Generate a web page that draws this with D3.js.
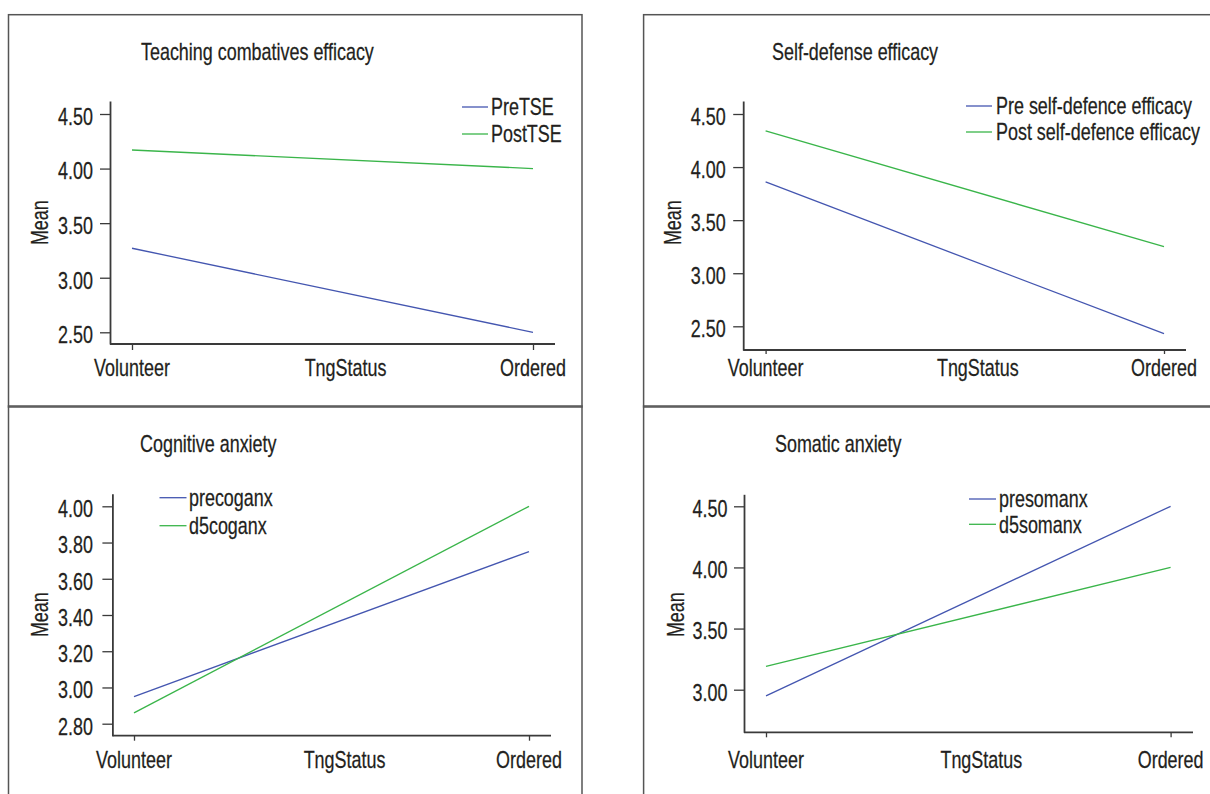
<!DOCTYPE html>
<html>
<head>
<meta charset="utf-8">
<script src="https://cdn.jsdelivr.net/npm/d3@7"></script>
<style>
  body { margin: 0; background: #fff; }
  svg { display: block; }
  text { font-family: "Liberation Sans", Arial, sans-serif; fill: #231f20; stroke: #231f20; stroke-width: 0.25px; }
</style>
</head>
<body>
<div id="chart"></div>
<script>
// data
const categories = ["Volunteer", "Ordered"];
const xTitle = "TngStatus";
const titles = ["Teaching combatives efficacy", "Self-defense efficacy", "Cognitive anxiety", "Somatic anxiety"];

const seriesTSE = ["PreTSE", "PostTSE"];
const preTSE = [3.27, 2.50];
const postTSE = [4.17, 4.00];

const seriesSelfDef = ["Pre self-defence efficacy", "Post self-defence efficacy"];
const preSelfDef = [3.86, 2.43];
const postSelfDef = [4.34, 3.25];

const seriesCog = ["precoganx", "d5coganx"];
const precoganx = [2.95, 3.75];
const d5coganx = [2.86, 4.00];

const seriesSom = ["presomanx", "d5somanx"];
const presomanx = [2.95, 4.50];
const d5somanx = [3.19, 4.00];

const ticksEfficacy = [2.5, 3.0, 3.5, 4.0, 4.5];
const ticksCog = [2.8, 3.0, 3.2, 3.4, 3.6, 3.8, 4.0];
const ticksSom = [3.0, 3.5, 4.0, 4.5];

const colors = ["#4456b0", "#3ab54a"];
const sx = 0.78; // condensed look

// layout of each panel (pixel positions)
const panels = [
  { title: titles[0], names: seriesTSE, values: [preTSE, postTSE], ticks: ticksEfficacy,
    frame: [8.5, 14.7, 573.5, 392.3], axisX: 110, top: 101, axisY: 344, xEnd: 555,
    ref: [[4.5, 114], [2.5, 332.3]], xr: [132, 533], bTick: 6, lPad: 7,
    titleAt: [141, 60], legend: [462, 488, 491, 107, 134], meanAt: [40, 222.7] },
  { title: titles[1], names: seriesSelfDef, values: [preSelfDef, postSelfDef], ticks: ticksEfficacy,
    frame: [643.6, 14.7, 573.5, 392.3], axisX: 743.2, top: 101, axisY: 350, xEnd: 1186,
    ref: [[4.5, 114], [2.5, 326.3]], xr: [765.6, 1164], bTick: 4, lPad: 7.5,
    titleAt: [772, 60], legend: [966, 992, 996, 106, 132], meanAt: [672.6, 222.7] },
  { title: titles[2], names: seriesCog, values: [precoganx, d5coganx], ticks: ticksCog,
    frame: [8.5, 406, 573.5, 400], axisX: 112.4, top: 493.7, axisY: 735.7, xEnd: 551,
    ref: [[4.0, 506.3], [2.8, 723.7]], xr: [134, 529], bTick: 5, lPad: 9.5,
    titleAt: [140, 451.7], legend: [159.5, 186.5, 189, 497.7, 525.7], meanAt: [40, 614.7] },
  { title: titles[3], names: seriesSom, values: [presomanx, d5somanx], ticks: ticksSom,
    frame: [643.6, 406, 573.5, 400], axisX: 744, top: 494.3, axisY: 732.3, xEnd: 1193,
    ref: [[4.5, 506.3], [3.0, 689.7]], xr: [766, 1170.6], bTick: 5, lPad: 6.5,
    titleAt: [775, 451.7], legend: [969, 996, 999, 499, 524.3], meanAt: [675.5, 614.7] }
];

const svg = d3.select("#chart").append("svg")
  .attr("width", 1210)
  .attr("height", 794);

const fs = 23;

function label(g, x, y, txt, anchor) {
  return g.append("text")
    .attr("transform", `translate(${x},${y}) scale(${sx},1)`)
    .attr("text-anchor", anchor || "start")
    .style("font-size", fs + "px")
    .text(txt);
}

panels.forEach(p => {
  const g = svg.append("g");

  // frame
  g.append("rect")
    .attr("x", p.frame[0]).attr("y", p.frame[1])
    .attr("width", p.frame[2]).attr("height", p.frame[3])
    .attr("fill", "none").attr("stroke", "#555").attr("stroke-width", 1.5);

  // scales
  const ref = d3.scaleLinear().domain([p.ref[0][0], p.ref[1][0]]).range([p.ref[0][1], p.ref[1][1]]);
  const y = d3.scaleLinear().domain([ref.invert(p.axisY), ref.invert(p.top)]).range([p.axisY, p.top]);
  const x = d3.scalePoint().domain(categories).range(p.xr);

  // y axis
  const ya = g.append("g")
    .attr("transform", `translate(${p.axisX},0)`)
    .call(d3.axisLeft(y).tickValues(p.ticks).tickFormat(d3.format(".2f"))
      .tickSize(10).tickSizeOuter(0).tickPadding(p.lPad));
  ya.select(".domain").attr("stroke", "#3a3a3a").attr("stroke-width", 1.8);
  ya.selectAll(".tick line").attr("stroke", "#3a3a3a").attr("stroke-width", 1.3);
  ya.selectAll(".tick text")
    .attr("fill", "#231f20")
    .style("font-size", fs + "px")
    .style("font-family", "Liberation Sans, Arial, sans-serif")
    .attr("dy", "0.45em")
    .each(function () {
      const t = d3.select(this);
      t.attr("x", (+t.attr("x")) / sx).attr("transform", `scale(${sx},1)`);
    });

  // x axis
  g.append("line")
    .attr("x1", p.axisX).attr("x2", p.xEnd)
    .attr("y1", p.axisY).attr("y2", p.axisY)
    .attr("stroke", "#3a3a3a").attr("stroke-width", 1.8);
  const xa = g.append("g")
    .attr("transform", `translate(0,${p.axisY})`)
    .call(d3.axisBottom(x).tickSize(p.bTick).tickSizeOuter(0).tickPadding(0));
  xa.select(".domain").remove();
  xa.selectAll(".tick line").attr("stroke", "#3a3a3a").attr("stroke-width", 1.3);
  xa.selectAll(".tick text").remove();
  const base = p.frame[1] < 100 ? 376 : 768.3;
  categories.forEach(c => label(g, x(c), base, c, "middle"));
  label(g, (p.xr[0] + p.xr[1]) / 2 + 13, base, xTitle, "middle");

  // y title
  g.append("text")
    .attr("transform", `translate(${p.meanAt[0] + 8},${p.meanAt[1]}) rotate(-90) scale(${sx},1)`)
    .attr("text-anchor", "middle")
    .style("font-size", fs + "px")
    .text("Mean");

  // chart title
  label(g, p.titleAt[0], p.titleAt[1], p.title);

  // lines
  const line = d3.line().x((d, i) => x(categories[i])).y(d => y(d));
  p.values.forEach((vals, i) => {
    g.append("path")
      .datum(vals)
      .attr("d", line)
      .attr("fill", "none")
      .attr("stroke", colors[i])
      .attr("stroke-width", 1.3);
  });

  // legend
  const [lx1, lx2, tx, r1, r2] = p.legend;
  [r1, r2].forEach((ry, i) => {
    g.append("line")
      .attr("x1", lx1).attr("x2", lx2)
      .attr("y1", ry).attr("y2", ry)
      .attr("stroke", colors[i]).attr("stroke-width", 1.3);
    label(g, tx, ry + 8.3, p.names[i]);
  });
});
</script>
</body>
</html>
